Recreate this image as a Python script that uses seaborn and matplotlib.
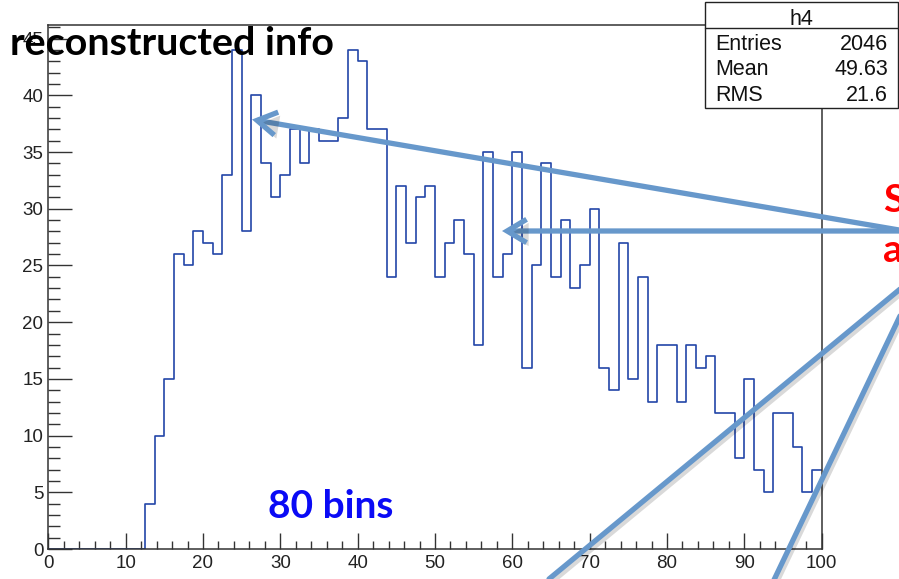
import numpy as np
import pandas as pd
import matplotlib
matplotlib.use("Agg")
import matplotlib.pyplot as plt
import matplotlib.patheffects as pe
from matplotlib.patches import Rectangle, FancyArrowPatch
from matplotlib.lines import Line2D
from matplotlib.ticker import MultipleLocator
import seaborn as sns

# ---- data (80 bins, 0..100) ----
bin_edges = [i * 1.25 for i in range(81)]
counts = [0, 0, 0, 0, 0, 0, 0, 0, 0, 0,
          4, 10, 15, 26, 25, 28, 27, 26, 33, 44,
          28, 40, 34, 31, 33, 37, 34, 37, 36, 36,
          38, 44, 43, 37, 37, 24, 32, 27, 31, 32,
          24, 27, 29, 26, 18, 35, 24, 26, 35, 16,
          25, 34, 24, 29, 23, 25, 30, 16, 14, 27,
          15, 24, 13, 18, 18, 13, 18, 16, 17, 12,
          12, 8, 15, 7, 5, 12, 12, 9, 5, 7]
x_ticks = [0, 10, 20, 30, 40, 50, 60, 70, 80, 90, 100]
y_ticks = [0, 5, 10, 15, 20, 25, 30, 35, 40, 45]
stats_title = "h4"
stats_labels = ["Entries", "Mean", "RMS"]
stats_values = ["2046", "49.63", "21.6"]

centers = [(bin_edges[i] + bin_edges[i + 1]) / 2 for i in range(80)]
df = pd.DataFrame({"x": centers, "w": counts})

sns.set_style("white")
plt.rcParams['font.family'] = ['Liberation Sans', 'DejaVu Sans']

W, H = 899, 579
fig = plt.figure(figsize=(W / 100, H / 100), dpi=100)
fig.patch.set_facecolor("white")

def fx(px):
    return px / W

def fy(py):
    return 1 - py / H

ax_l, ax_r, ax_t, ax_b = 48.3, 821.7, 25.0, 549.0
ax = fig.add_axes([fx(ax_l), fy(ax_b), fx(ax_r - ax_l), (ax_b - ax_t) / H])

sns.histplot(data=df, x="x", weights="w", bins=bin_edges, element="step",
             fill=False, color="#2346A8", linewidth=1.2, ax=ax)

ax.set_xlim(0, 100)
ax.set_ylim(0, 46.2)
ax.set_xlabel("")
ax.set_ylabel("")
ax.set_xticks(x_ticks)
ax.set_yticks(y_ticks)
ax.xaxis.set_minor_locator(MultipleLocator(2))
ax.yaxis.set_minor_locator(MultipleLocator(1))
for s in ax.spines.values():
    s.set_color("#333333")
    s.set_linewidth(1.1)
    s.set_zorder(4)
ax.tick_params(axis="y", which="major", direction="in", length=17.3, width=1.0,
               color="#333333", labelsize=13.5, labelcolor="#222222", pad=3.6,
               left=True, right=False)
ax.tick_params(axis="y", which="minor", direction="in", length=8.6, width=1.0,
               color="#333333", left=True, right=False)
ax.tick_params(axis="x", which="major", direction="in", length=11.5, width=1.0,
               color="#333333", labelsize=13.5, labelcolor="#222222", pad=4,
               bottom=True, top=False)
ax.tick_params(axis="x", which="minor", direction="in", length=5.8, width=1.0,
               color="#333333", bottom=True, top=False)
ax.grid(False)

# ---- stats box ----
bx0, bx1, by0, by1, bh = 705, 898, 2.3, 107.7, 28
fig.add_artist(Rectangle((fx(bx0), fy(by1)), fx(bx1 - bx0), (by1 - by0) / H,
                         transform=fig.transFigure, facecolor="white",
                         edgecolor="#222222", linewidth=1.0, zorder=5))
fig.add_artist(Line2D([fx(bx0), fx(bx1)], [fy(bh), fy(bh)], transform=fig.transFigure,
                      color="#222222", linewidth=1.0, zorder=6))
fig.text(fx((bx0 + bx1) / 2), fy(25), stats_title, ha="center", va="baseline",
         fontsize=15.5, color="#111111", zorder=7)
for i, (lab, val) in enumerate(zip(stats_labels, stats_values)):
    yb = 50 + i * 25.3
    fig.text(fx(715), fy(yb), lab, ha="left", va="baseline", fontsize=15.5,
             color="#111111", zorder=7)
    fig.text(fx(888), fy(yb), val, ha="right", va="baseline", fontsize=15.5,
             color="#111111", zorder=7)

# ---- annotation text ----
bold = ['Lato', 'DejaVu Sans']
fig.text(fx(10), fy(55), "reconstructed info", ha="left", va="baseline",
         fontsize=28.4, fontweight="bold", family=bold, color="black", zorder=8)
fig.text(fx(268), fy(518), "80 bins", ha="left", va="baseline",
         fontsize=28, fontweight="bold", family=bold, color="#0A0AF5", zorder=8)
fig.text(fx(883), fy(212), "S", ha="left", va="baseline",
         fontsize=28, fontweight="bold", family=bold, color="#FF0000", zorder=8)
fig.text(fx(883), fy(262), "a", ha="left", va="baseline",
         fontsize=28, fontweight="bold", family=bold, color="#FF0000", zorder=8)

# ---- arrows / lines ----
acol = "#6798CB"
shadow = [pe.SimplePatchShadow(offset=(1.5, -2.5), shadow_rgbFace="#000000", alpha=0.15),
          pe.Normal()]
lshadow = [pe.SimpleLineShadow(offset=(1.5, -2.5), shadow_color="#000000", alpha=0.15),
           pe.Normal()]

def fp(px, py):
    return (px, H - py)

for (x0, y0), (x1, y1) in [((905, 231), (252, 119.5)), ((905, 231), (502, 231))]:
    a = FancyArrowPatch(
        fp(x0, y0), fp(x1, y1), transform=None,
        arrowstyle="->,head_length=1.0,head_width=0.6",
        mutation_scale=14, color=acol, linewidth=3.8, zorder=9,
        shrinkA=0, shrinkB=0, capstyle="butt", joinstyle="miter")
    a.set_path_effects(shadow)
    fig.add_artist(a)

for (x0, y0), (x1, y1) in [((905, 285), (549, 579)), ((905, 305.5), (773, 582))]:
    ln = Line2D([x0, x1], [H - y0, H - y1], transform=None, color=acol,
                linewidth=3.8, zorder=9)
    ln.set_path_effects(lshadow)
    fig.add_artist(ln)

fig.savefig("out.png", dpi=100, facecolor="white")
